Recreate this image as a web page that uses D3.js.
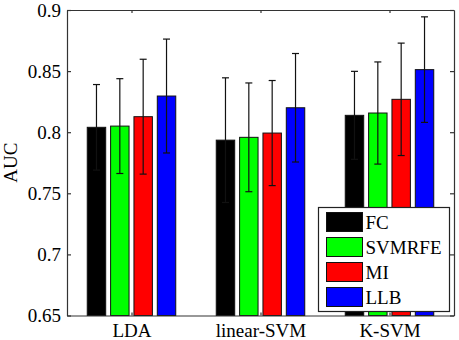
<!DOCTYPE html>
<html>
<head>
<meta charset="utf-8">
<script src="https://cdn.jsdelivr.net/npm/d3@7"></script>
<style>
body { margin: 0; background: #fff; }
</style>
</head>
<body>
<div id="chart"></div>
<script>
const classifiers = ['LDA', 'linear-SVM', 'K-SVM'];
const methods = ['FC', 'SVMRFE', 'MI', 'LLB'];
const colors = ['#000000', '#00ff00', '#ff0000', '#0000ff'];
// mean AUC, one array per method (LDA, linear-SVM, K-SVM)
const meanFC = [0.804, 0.7935, 0.8138];
const meanSVMRFE = [0.805, 0.7958, 0.8157];
const meanMI = [0.8127, 0.7993, 0.8269];
const meanLLB = [0.8296, 0.820, 0.8512];
// standard deviation
const sdFC = [0.035, 0.051, 0.036];
const sdSVMRFE = [0.0388, 0.0445, 0.0418];
const sdMI = [0.047, 0.043, 0.046];
const sdLLB = [0.0466, 0.0444, 0.0432];
const yTicks = [0.65, 0.7, 0.75, 0.8, 0.85, 0.9];

const means = [meanFC, meanSVMRFE, meanMI, meanLLB];
const sds = [sdFC, sdSVMRFE, sdMI, sdLLB];

const width = 459, height = 340;
const margin = {left: 67, right: 5, top: 10, bottom: 24.5};
const plotW = width - margin.left - margin.right;
const plotH = height - margin.top - margin.bottom;
const serif = '"Liberation Serif", serif';

const svg = d3.select('#chart').append('svg')
    .attr('width', width)
    .attr('height', height)
    .style('font-family', serif);
const g = svg.append('g')
    .attr('transform', `translate(${margin.left},${margin.top})`);

// matlab style numeric x axis: groups at 1,2,3
const x = d3.scaleLinear().domain([0.5, 3.5]).range([0, plotW]);
const y = d3.scaleLinear().domain([0.65, 0.9]).range([plotH, 0]);
const pitch = 0.181, barW = 0.143;

const data = [];
classifiers.forEach((c, i) => {
    methods.forEach((m, j) => {
        data.push({
            pos: i + 1 + (j - 1.5) * pitch,
            mean: means[j][i],
            sd: sds[j][i],
            color: colors[j]
        });
    });
});

const bw = x(barW) - x(0);
g.selectAll('.bar')
    .data(data)
    .enter()
    .append('rect')
    .attr('class', 'bar')
    .attr('x', d => x(d.pos) - bw / 2)
    .attr('width', bw)
    .attr('y', d => y(d.mean))
    .attr('height', d => plotH - y(d.mean))
    .attr('fill', d => d.color)
    .attr('stroke', '#111')
    .attr('stroke-width', 1);

// error bars
const eg = g.selectAll('.err')
    .data(data)
    .enter()
    .append('g')
    .attr('class', 'err')
    .attr('stroke', '#111')
    .attr('stroke-width', 1.2);
eg.append('line')
    .attr('x1', d => x(d.pos)).attr('x2', d => x(d.pos))
    .attr('y1', d => y(d.mean - d.sd)).attr('y2', d => y(d.mean + d.sd));
eg.append('line')
    .attr('x1', d => x(d.pos) - 3.5).attr('x2', d => x(d.pos) + 3.5)
    .attr('y1', d => y(d.mean + d.sd)).attr('y2', d => y(d.mean + d.sd));
eg.append('line')
    .attr('x1', d => x(d.pos) - 3.5).attr('x2', d => x(d.pos) + 3.5)
    .attr('y1', d => y(d.mean - d.sd)).attr('y2', d => y(d.mean - d.sd));

// axes, ticks inward
const xAxis = d3.axisBottom(x).tickValues([1, 2, 3])
    .tickFormat((d, i) => classifiers[i]).tickSizeInner(-3).tickSizeOuter(0).tickPadding(10);
const yAxis = d3.axisLeft(y).tickValues(yTicks)
    .tickFormat(d3.format('')).tickSizeInner(-4).tickSizeOuter(0).tickPadding(6);

const gx = g.append('g').attr('transform', `translate(0,${plotH})`).call(xAxis);
const gy = g.append('g').call(yAxis);
const gxTop = g.append('g').call(d3.axisTop(x).tickValues([1, 2, 3]).tickFormat('').tickSizeInner(-3).tickSizeOuter(0));
const gyRight = g.append('g').attr('transform', `translate(${plotW},0)`)
    .call(d3.axisRight(y).tickValues(yTicks).tickFormat('').tickSizeInner(-4).tickSizeOuter(0));

[gx, gy, gxTop, gyRight].forEach(a => {
    a.attr('font-size', 19).style('font-family', serif);
    a.selectAll('path, line').attr('stroke', '#333').attr('stroke-width', 1.2);
    a.selectAll('text').attr('fill', '#000');
});
gx.selectAll('text').attr('dy', '0.6em');

svg.append('text')
    .attr('transform', `translate(17,${margin.top + plotH / 2}) rotate(-90)`)
    .attr('text-anchor', 'middle')
    .attr('font-size', 19)
    .text('AUC');

// legend
const leg = svg.append('g').attr('transform', 'translate(318.5,207.5)');
leg.append('rect')
    .attr('width', 131).attr('height', 104)
    .attr('fill', '#fff').attr('stroke', '#222').attr('stroke-width', 1.2);
const item = leg.selectAll('.item')
    .data(methods)
    .enter()
    .append('g')
    .attr('transform', (d, i) => `translate(8,${5 + i * 25})`);
item.append('rect')
    .attr('width', 36).attr('height', 19)
    .attr('fill', (d, i) => colors[i])
    .attr('stroke', '#111').attr('stroke-width', 1);
item.append('text')
    .attr('x', 39).attr('y', 16.5)
    .attr('font-size', 19)
    .text(d => d);
</script>
</body>
</html>
